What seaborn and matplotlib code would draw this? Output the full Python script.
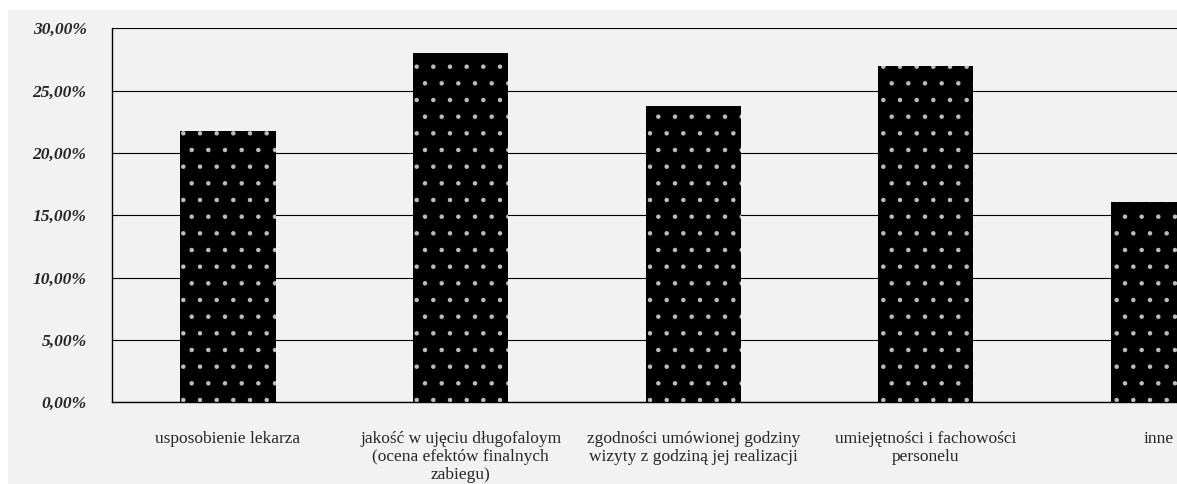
import matplotlib
matplotlib.use("Agg")
import matplotlib.pyplot as plt
from matplotlib.patches import Rectangle
from matplotlib.ticker import FuncFormatter, FixedLocator
import seaborn as sns

categories = [
    "usposobienie lekarza",
    "jakość w ujęciu długofaloym\n(ocena efektów finalnych\nzabiegu)",
    "zgodności umówionej godziny\nwizyty z godziną jej realizacji",
    "umiejętności i fachowości\npersonelu",
    "inne",
]
values = [21.74, 28.00, 23.77, 26.96, 16.05]
y_ticks = [0, 5, 10, 15, 20, 25, 30]

sns.set_style("white")
plt.rcParams["font.family"] = ["Liberation Serif", "DejaVu Serif"]
plt.rcParams["hatch.color"] = "#bdbdbd"
plt.rcParams["hatch.linewidth"] = 0.8

fig = plt.figure(figsize=(11.77, 4.84), dpi=100, facecolor="white")
# light grey chart area
fig.patches.append(Rectangle((8 / 1177, 0), 1, (484 - 10) / 484,
                             transform=fig.transFigure, facecolor="#f2f2f2",
                             edgecolor="none", zorder=-10))

ax = fig.add_axes([111.7 / 1177, 81.7 / 484, 5 * 232.6 / 1177, 374.0 / 484])
ax.set_facecolor("none")

sns.barplot(x=categories, y=values, color="black", width=0.41, ax=ax,
            hatch=".", edgecolor="#bdbdbd", linewidth=0, saturation=1,
            zorder=3)

ax.set_ylim(0, 30)
ax.set_xlim(-0.5, len(categories) - 0.5)
ax.yaxis.set_major_locator(FixedLocator(y_ticks))
ax.yaxis.set_major_formatter(FuncFormatter(lambda v, p: f"{v:.2f}".replace(".", ",") + "%"))
ax.grid(axis="y", color="black", linewidth=0.8, zorder=0)
ax.set_axisbelow(True)

for side in ("top", "right"):
    ax.spines[side].set_visible(False)
for side in ("left", "bottom"):
    ax.spines[side].set_color("black")
    ax.spines[side].set_linewidth(1.0)

ax.tick_params(axis="y", direction="out", length=4, width=0.8, color="black",
               pad=14)
for lbl in ax.get_yticklabels():
    lbl.set_fontsize(12.6)
    lbl.set_fontweight("bold")
    lbl.set_fontstyle("italic")

# category boundaries get the tick marks, labels sit at the centres
ax.xaxis.set_minor_locator(FixedLocator([i - 0.5 for i in range(len(categories) + 1)]))
ax.tick_params(axis="x", which="minor", direction="out", length=5, width=0.8,
               color="black")
ax.tick_params(axis="x", which="major", length=0, pad=21)
for lbl in ax.get_xticklabels():
    lbl.set_fontsize(12.5)
    lbl.set_linespacing(1.14)
    lbl.set_verticalalignment("top")
ax.set_xlabel("")
ax.set_ylabel("")

fig.savefig("out.png", dpi=100, facecolor=fig.get_facecolor())
